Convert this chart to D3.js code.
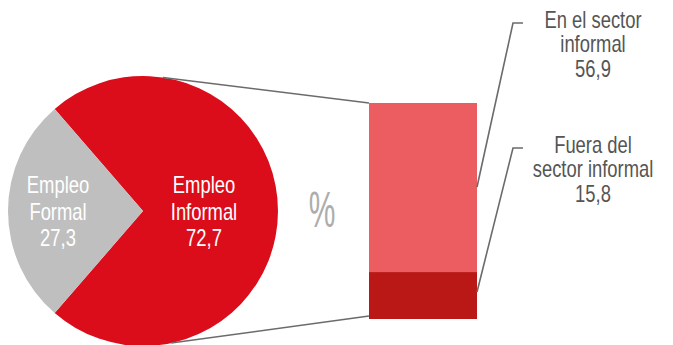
<!DOCTYPE html>
<html>
<head>
  <meta charset="utf-8">
  <title>Empleo informal</title>
  <script src="https://d3js.org/d3.v7.min.js"></script>
  <style>
    body { margin: 0; background: #fff; }
    svg text { font-family: "Liberation Sans", Arial, sans-serif; }
  </style>
</head>
<body>
  <div id="chart"></div>
  <script>
    // pie data
    var pieLabels = [["Empleo", "Informal"], ["Empleo", "Formal"]];
    var pieValues = [72.7, 27.3];
    var pieColors = ["#dc0d1a", "#bfbfbf"];

    // stacked bar data (breakdown of informal employment)
    var barLabels = [["En el sector", "informal"], ["Fuera del", "sector informal"]];
    var barValues = [56.9, 15.8];
    var barColors = ["#eb5d61", "#b91816"];

    var fmt = function(v) { return d3.format(".1f")(v).replace(".", ","); };

    var width = 673, height = 345;
    var svg = d3.select("#chart").append("svg")
      .attr("width", width)
      .attr("height", height);

    // narrow text: no condensed face installed, so squeeze horizontally
    var squeeze = 0.8;
    function label(parent, x, y0, lines, color, step) {
      var t = parent.append("text")
        .attr("transform", "translate(" + x + ",0) scale(" + squeeze + ",1)")
        .attr("text-anchor", "middle")
        .attr("fill", color)
        .style("font-size", "23px");
      lines.forEach(function(l, j) {
        t.append("tspan").attr("x", 0).attr("y", y0 + j * step).text(l);
      });
    }

    // pie
    var cx = 143, cy = 211, r = 135;
    var grey = pieValues[1] / d3.sum(pieValues) * 2 * Math.PI;
    var start = 1.5 * Math.PI + grey / 2 - 2 * Math.PI; // grey wedge centred on the left
    var pie = d3.pie().sort(null).startAngle(start).endAngle(start + 2 * Math.PI);
    var arcs = pie(pieValues);
    var arc = d3.arc().innerRadius(0).outerRadius(r);

    var g = svg.append("g").attr("transform", "translate(" + cx + "," + cy + ")");
    g.selectAll("path")
      .data(arcs)
      .enter().append("path")
        .attr("d", arc)
        .attr("fill", function(d, i) { return pieColors[i]; });

    // pie labels
    var labelX = [61, -85];
    arcs.forEach(function(d, i) {
      label(g, labelX[i], -18, pieLabels[i].concat([fmt(pieValues[i])]), "#fff", 26.5);
    });

    // stacked bar
    var barX = 369, barW = 108, barTop = 103, barH = 216;
    var y = d3.scaleLinear().domain([0, d3.sum(barValues)]).range([barTop, barTop + barH]);
    var cum = d3.cumsum([0].concat(barValues));
    svg.selectAll("rect.seg")
      .data(barValues)
      .enter().append("rect")
        .attr("class", "seg")
        .attr("x", barX)
        .attr("width", barW)
        .attr("y", function(d, i) { return y(cum[i]); })
        .attr("height", function(d) { return y(d) - y(0); })
        .attr("fill", function(d, i) { return barColors[i]; });

    // connector lines pie -> bar
    var a1 = 8.5 * Math.PI / 180, a2 = 168 * Math.PI / 180;
    var conn = [
      [[cx + r * Math.sin(a1), cy - r * Math.cos(a1)], [barX, y(0)]],
      [[cx + r * Math.sin(a2), cy - r * Math.cos(a2)], [barX, y(d3.sum(barValues)) - 3]]
    ];
    svg.selectAll("line.conn")
      .data(conn)
      .enter().append("line")
        .attr("class", "conn")
        .attr("x1", function(d) { return d[0][0]; })
        .attr("y1", function(d) { return d[0][1]; })
        .attr("x2", function(d) { return d[1][0]; })
        .attr("y2", function(d) { return d[1][1]; })
        .attr("stroke", "#6b6b6b")
        .attr("stroke-width", 1.6);

    // % sign
    svg.append("text")
      .attr("transform", "translate(322,227) scale(0.6,1)")
      .attr("text-anchor", "middle")
      .attr("fill", "#adadad")
      .style("font-size", "50px")
      .text("%");

    // bar labels with leader lines
    var labelTop = [28, 153];
    var leaderY = [187, 292];
    barValues.forEach(function(v, i) {
      var ly = labelTop[i] - 5;
      svg.append("polyline")
        .attr("points", [[barX + barW, leaderY[i]], [513, ly], [523, ly]].join(" "))
        .attr("fill", "none")
        .attr("stroke", "#6b6b6b")
        .attr("stroke-width", 1.6);
      label(svg, 593, labelTop[i], barLabels[i].concat([fmt(v)]), "#555", 24.5);
    });
  </script>
</body>
</html>
